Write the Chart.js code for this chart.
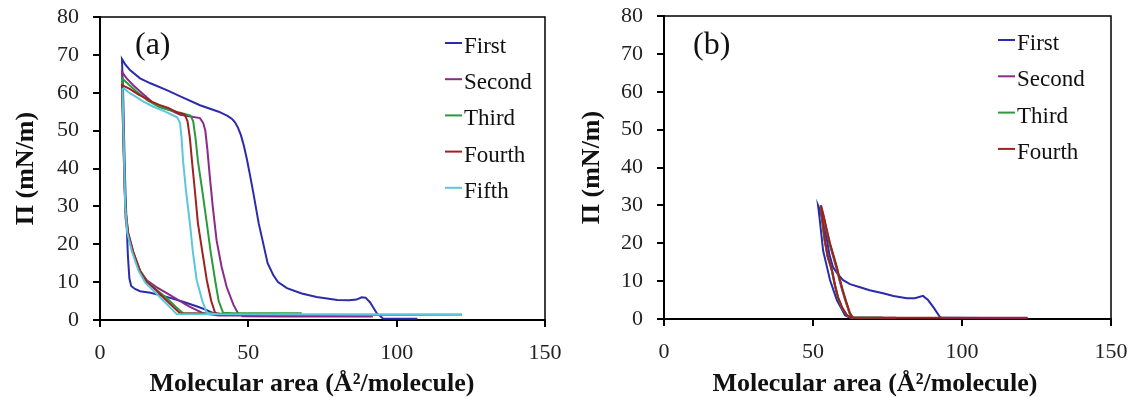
<!DOCTYPE html>
<html>
<head>
<meta charset="utf-8">
<script src="https://cdn.jsdelivr.net/npm/chart.js@4.4.1/dist/chart.umd.min.js"></script>
<style>
  body { margin: 0; background: #fff; }
  .panel { position: absolute; top: 0; height: 397px; }
</style>
</head>
<body>
<div class="panel" style="left:0;width:566px"><canvas id="chartA" width="566" height="397"></canvas></div>
<div class="panel" style="left:566px;width:567px"><canvas id="chartB" width="567" height="397"></canvas></div>
<script>
// tick values
const xTicks = [0, 50, 100, 150];
const yTicks = [0, 10, 20, 30, 40, 50, 60, 70, 80];
const seriesNames = ['First', 'Second', 'Third', 'Fourth', 'Fifth'];
const seriesColors = ['#2b2bab', '#8a2a8a', '#2a9a3a', '#a02020', '#5cc6dc'];

// panel (a): area (Å²/molecule) and pressure (mN/m)
const aFirstX = [107, 95.4, 93.3, 91, 89.5, 88.2, 86.5, 84, 80, 73, 68, 63, 60, 58.4, 56.5, 55, 53.5, 51.7, 50.5, 49.5, 48.5, 47.5, 46.5, 45.5, 44.5, 43, 40, 33.7, 28, 22.5, 17, 13.5, 10.1, 8.5, 7.4,
  7.8, 8.2, 8.6, 9.0, 9.4, 9.9, 10.5, 11.8, 13.5, 17, 22.5, 28, 33, 36, 38, 42, 60, 122];
const aFirstY = [0.3, 0.4, 1.8, 4.7, 5.9, 6, 5.4, 5.2, 5.3, 6.1, 7, 8.4, 10, 11.9, 15, 20.3, 25.5, 33.5, 38.5, 42.5, 46, 48.8, 50.8, 52.2, 53.1, 53.9, 55, 56.7, 58.7, 60.7, 62.5, 63.8, 66, 67.5, 68.9,
  60, 45, 33, 25, 17, 11, 9, 8.2, 7.6, 7.2, 6.1, 4.8, 3.5, 2.6, 1.9, 1.4, 1.3, 1.3];

const aSecondX = [92, 60, 48, 46.5, 45, 42.7, 41, 39.3, 38, 37, 36.2, 35.5, 34.8, 33.7, 30, 27, 24, 20.2, 18, 16.9, 14, 11.2, 9, 7.4,
  7.9, 8.3, 8.6, 9.5, 11.2, 13.5, 15.8, 19, 22.5, 27, 30, 32.6, 34.7, 40, 60];
const aSecondY = [0.9, 0.9, 1.0, 1.8, 4, 8.7, 14, 21, 30, 38, 45, 50, 52, 53.3, 53.8, 54.2, 55.3, 56.2, 57.2, 58, 60, 62, 63.8, 65.5,
  50, 35, 27, 22, 17.5, 13, 10.5, 8.7, 7.1, 5, 3.6, 2.6, 1.8, 1.2, 1.2];

const aThirdX = [68, 45, 41.5, 40, 38.8, 37.3, 36, 34.5, 33, 32.2, 31.4, 30.5, 27.6, 24, 20, 16, 12, 9.5, 7.4,
  7.8, 8.2, 8.6, 9.5, 11.2, 13.5, 15.8, 19, 22.5, 25.5, 28, 50];
const aThirdY = [1.8, 1.8, 1.9, 5, 10.5, 18, 25.6, 34, 42, 48, 52.5, 54, 54.6, 55.3, 56.3, 58, 60.5, 62.3, 63.8,
  50, 38, 29, 23, 18, 13, 10.2, 8, 5.8, 3.5, 1.8, 1.6];

const aFourthX = [60, 40, 38.8, 37.5, 36, 34.5, 33, 32, 31, 30.3, 29.5, 28.5, 26, 23, 20, 17, 15.5, 13, 10, 7.4,
  7.8, 8.2, 8.6, 9.5, 11.2, 13.5, 15.8, 19, 22, 25, 27, 45];
const aFourthY = [1.4, 1.5, 1.9, 5, 10.5, 18, 25.6, 34, 42, 48, 52.5, 54.3, 54.8, 56, 56.8, 57.8, 58.5, 59.5, 61, 62,
  50, 38, 29, 23, 18, 13, 10, 7.8, 5.5, 3.2, 1.8, 1.5];

const aFifthX = [122, 40, 36, 34.5, 32.6, 31.3, 30.3, 29, 28, 27.5, 27, 26, 22, 18, 15, 12, 9.5, 8, 7.6,
  7.9, 8.2, 8.5, 9.2, 10.8, 13, 15.3, 18.5, 21.5, 24, 25.8, 122];
const aFifthY = [1.5, 1.5, 1.8, 5, 10.5, 18, 25.6, 34, 42, 48, 52, 53.5, 55, 56.3, 57.5, 59, 60.2, 61.2, 61,
  50, 40, 30, 23, 18, 13, 9.8, 7.4, 5, 3, 1.6, 1.3];

// panel (b)
const bFirstX = [122, 93.6, 92.6, 90.5, 88.6, 86.9, 84.2, 81.5, 77, 73.5, 69, 65.8, 62.4, 60, 58.2, 56.7, 55.5, 54.7, 53.5, 52.5, 51.7,
  52.3, 53.4, 54.7, 55.7, 57, 58, 59.5, 60.7, 62.4, 75];
const bFirstY = [0.2, 0.3, 0.5, 3, 5, 6.1, 5.5, 5.5, 6.1, 6.8, 7.6, 8.4, 9.2, 10.3, 12, 13.7, 17, 20.8, 25, 28.5, 30,
  26, 18, 13.7, 10.3, 7.3, 5, 2.8, 1, 0.3, 0.2];

const bSecondX = [78, 64, 63.2, 62.2, 61, 59.8, 58.8, 57.8, 56.6, 55.5, 54.3, 53.3, 52.6,
  53.1, 53.9, 54.9, 56.3, 57.3, 58.3, 59.7, 61.3, 62.9, 68];
const bSecondY = [0.3, 0.3, 0.3, 1.6, 4.5, 7.6, 10.5, 13.7, 17, 20, 24, 27.5, 30,
  26, 20.8, 16.5, 12.9, 9, 5.8, 3, 1, 0.3, 0.3];

const bThirdX = [73.5, 64, 63.3, 62.3, 61.1, 59.9, 58.9, 57.9, 56.7, 55.6, 54.4, 53.4, 52.6,
  53.1, 53.9, 54.9, 56.3, 57.3, 58.3, 59.7, 61.3, 62.9, 70];
const bThirdY = [0.4, 0.4, 0.4, 1.6, 4.5, 7.6, 10.5, 13.7, 17, 20, 24, 27.5, 30,
  26, 20.8, 16.5, 12.9, 9, 5.8, 3, 1, 0.4, 0.4];

const bFourthX = [122, 64, 63.4, 62.4, 61.2, 60, 59, 58, 56.8, 55.7, 54.5, 53.5, 52.7,
  53.2, 54, 55, 56.4, 57.4, 58.4, 59.8, 61.4, 63, 70];
const bFourthY = [0.3, 0.3, 0.3, 1.6, 4.5, 7.6, 10.5, 13.7, 17, 20, 24, 27.5, 30,
  26, 20.8, 16.5, 12.9, 9, 5.8, 3, 1, 0.3, 0.3];

function pts(xs, ys) {
  return xs.map((x, i) => ({ x: x, y: ys[i] }));
}

function makeDatasets(pairs) {
  return pairs.map((p, i) => ({
    label: seriesNames[i],
    data: pts(p[0], p[1]),
    borderColor: seriesColors[i],
    backgroundColor: seriesColors[i],
    borderWidth: 2,
    pointRadius: 0,
    tension: 0,
    fill: false,
    order: pairs.length - i // later series on top
  }));
}

// draws the frame, inside legend, panel letter and x title
const decorPlugin = {
  id: 'decor',
  afterDraw(chart, args, opts) {
    const ctx = chart.ctx;
    const ca = chart.chartArea;
    ctx.save();
    ctx.strokeStyle = '#000';
    ctx.lineWidth = 1.5;
    ctx.beginPath();
    ctx.moveTo(ca.left, ca.top);
    ctx.lineTo(ca.right, ca.top);
    ctx.lineTo(ca.right, ca.bottom);
    ctx.stroke();

    // panel letter
    ctx.fillStyle = '#111';
    ctx.font = '32px "Liberation Serif", serif';
    ctx.textBaseline = 'middle';
    ctx.textAlign = 'left';
    ctx.fillText(opts.letter, opts.letterX, opts.letterY);

    // legend
    ctx.font = '23px "Liberation Serif", serif';
    chart.data.datasets.forEach((ds, i) => {
      const y = ca.top + opts.legendTop + i * opts.legendStep;
      const x = ca.right - opts.legendRight;
      ctx.strokeStyle = ds.borderColor;
      ctx.lineWidth = 2;
      ctx.beginPath();
      ctx.moveTo(x, y);
      ctx.lineTo(x + 17, y);
      ctx.stroke();
      ctx.fillStyle = '#111';
      ctx.fillText(ds.label, x + 19, y + 4);
    });

    // x axis title
    ctx.font = 'bold 26px "Liberation Serif", serif';
    ctx.textAlign = 'center';
    ctx.fillText('Molecular area (Å²/molecule)', opts.titleX, opts.titleY);
    ctx.restore();
  }
};

function makeChart(id, datasets, yWidth, xHeight, padRight, padTop, decor) {
  const ctx = document.getElementById(id).getContext('2d');
  return new Chart(ctx, {
    type: 'line',
    data: { datasets: datasets },
    options: {
      responsive: false,
      animation: false,
      layout: { padding: { left: 0, right: padRight, top: padTop, bottom: 0 } },
      plugins: {
        legend: { display: false },
        tooltip: { enabled: false },
        decor: decor
      },
      scales: {
        x: {
          type: 'linear',
          min: 0,
          max: 150,
          afterBuildTicks: (s) => { s.ticks = xTicks.map(v => ({ value: v })); },
          afterFit: (s) => {
            s.height = xHeight;
            s.paddingLeft = 0;
            s.paddingRight = 0;
          },
          ticks: {
            color: '#222',
            padding: 13,
            maxRotation: 0,
            font: { family: '"Liberation Serif", serif', size: 22 }
          },
          grid: { drawOnChartArea: false, drawTicks: true, tickLength: 7, color: '#000', lineWidth: 2 },
          border: { display: true, color: '#000', width: 2 }
        },
        y: {
          type: 'linear',
          min: 0,
          max: 80,
          afterBuildTicks: (s) => { s.ticks = yTicks.map(v => ({ value: v })); },
          afterFit: (s) => {
            s.width = yWidth;
            s.paddingTop = 0;
            s.paddingBottom = 0;
          },
          ticks: {
            color: '#222',
            padding: 14,
            font: { family: '"Liberation Serif", serif', size: 22 }
          },
          grid: { drawOnChartArea: false, drawTicks: true, tickLength: 7, color: '#000', lineWidth: 2 },
          border: { display: true, color: '#000', width: 2 },
          title: {
            display: true,
            text: 'Π (mN/m)',
            color: '#111',
            padding: { top: 11, bottom: 0 },
            font: { family: '"Liberation Serif", serif', size: 26, weight: 'bold' }
          }
        }
      }
    },
    plugins: [decorPlugin]
  });
}

makeChart('chartA', makeDatasets([
  [aFirstX, aFirstY], [aSecondX, aSecondY], [aThirdX, aThirdY], [aFourthX, aFourthY], [aFifthX, aFifthY]
]), 100, 77, 21, 17, {
  letter: '(a)', letterX: 135, letterY: 46,
  legendTop: 26, legendStep: 36.2, legendRight: 100,
  titleX: 312, titleY: 384
});

makeChart('chartB', makeDatasets([
  [bFirstX, bFirstY], [bSecondX, bSecondY], [bThirdX, bThirdY], [bFourthX, bFourthY]
]), 98, 78, 22, 16, {
  letter: '(b)', letterX: 127, letterY: 46,
  legendTop: 24, legendStep: 36.3, legendRight: 113,
  titleX: 309, titleY: 384
});
</script>
</body>
</html>
